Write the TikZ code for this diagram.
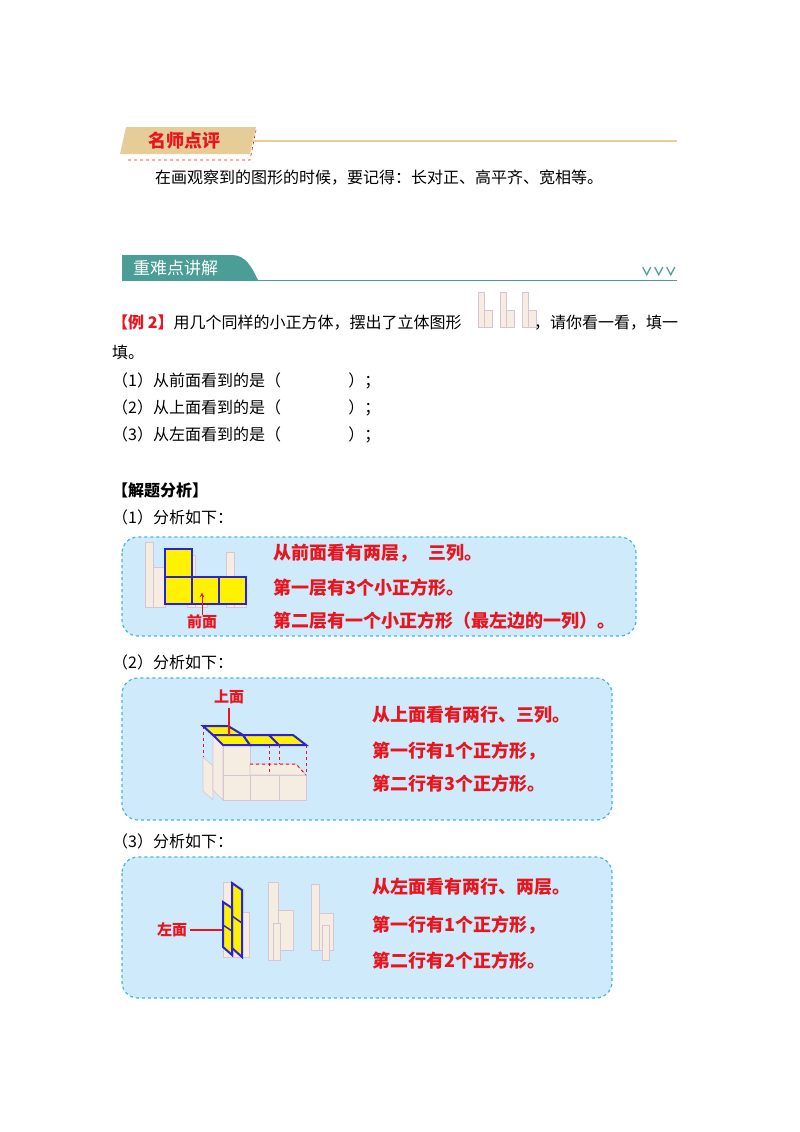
\documentclass[tikz,border=0pt]{standalone}
\usepackage{fontspec}
\setmainfont{Noto Sans CJK SC}
\definecolor{tan}{HTML}{E6CD98}
\definecolor{teal}{HTML}{4A9E96}
\definecolor{boxfill}{HTML}{CFEAFA}
\definecolor{boxline}{HTML}{40B6E8}
\definecolor{redt}{HTML}{E8141E}
\definecolor{beige}{HTML}{F6EDE2}
\definecolor{beigel}{HTML}{D9C4D4}
\definecolor{bluel}{HTML}{2A22D8}
\begin{document}
\begin{tikzpicture}[x=1pt,y=-1pt,
 body/.style={anchor=west,inner sep=0pt,font=\fontsize{16}{16}\selectfont},
 redb/.style={anchor=west,inner sep=0pt,text=redt,font=\fontsize{18}{18}\selectfont\bfseries},
 abox/.style={fill=boxfill,draw=boxline,dashed,line width=1.2pt,rounded corners=16pt},
 cube/.style={fill=beige,draw=beigel,line width=0.6pt},
 ysq/.style={fill=yellow,draw=bluel,line width=2pt},
 rdash/.style={draw=redt,dashed,line width=1pt}]
\useasboundingbox (0,0) rectangle (800,1132);
% header 1
\draw[redt,dashed,line width=0.6pt] (128,160)--(250,160)--(256,130);
\fill[tan] (126,127)--(256,127)--(250,154)--(120,154)--cycle;
\node[anchor=center,inner sep=0pt,text=redt,font=\fontsize{18}{18}\selectfont\bfseries] (h1) at (184,141) {名师点评};
\draw[tan,line width=1.8pt] (253,141)--(677,141);
\node[body] (t1) at (155,178) {在画观察到的图形的时候，要记得：长对正、高平齐、宽相等。};
% header 2
\fill[teal] (122,255)--(232,255) .. controls (246,255) and (252,268) .. (258,280) -- (122,280)--cycle;
\draw[teal,line width=1pt] (122,280.5)--(677,280.5);
\node[anchor=west,inner sep=0pt,text=white,font=\fontsize{17}{17}\selectfont] (h2) at (133,268) {重难点讲解};
\node[anchor=east,inner sep=0pt,text=teal,font=\fontsize{12}{12}\selectfont\bfseries] (v) at (677,272) {∨∨∨};
% example
\node[body] (e1) at (112,323) {\textcolor{redt}{\bfseries 【例 2】}用几个同样的小正方体，摆出了立体图形};
\foreach \x in {478,500,522}{
 \draw[beigel,fill=beige] (\x,292) rectangle (\x+6,327);
 \draw[beigel,fill=beige] (\x+6,310) rectangle (\x+14,327);}
\node[body] (e2) at (534,323) {，请你看一看，填一};
\node[body] (e3) at (112,352) {填。};
\node[body] (q1) at (112,381) {（1）从前面看到的是（\hspace{4.2em}）；};
\node[body] (q2) at (112,408) {（2）从上面看到的是（\hspace{4.2em}）；};
\node[body] (q3) at (112,435) {（3）从左面看到的是（\hspace{4.2em}）；};
\node[body,font=\fontsize{16}{16}\selectfont\bfseries] (a0) at (112,490) {【解题分析】};
\node[body] (a1) at (112,517) {（1）分析如下：};
\node[body] (a2) at (112,662) {（2）分析如下：};
\node[body] (a3) at (112,841) {（3）分析如下：};
% box 1
\draw[abox] (122,537) rectangle (636,636);
\foreach \x/\t in {145/542,187/555,226/552}{\draw[cube] (\x,\t) rectangle (\x+8,607); \draw[cube] (\x+8,\t+25) rectangle (\x+20,607);}
\draw[ysq] (165,549) rectangle (192,577);
\draw[ysq] (165,577) rectangle (192,604);
\draw[ysq] (192,577) rectangle (219,604);
\draw[ysq] (219,577) rectangle (246,604);
\node[anchor=center,inner sep=0pt,text=redt,font=\fontsize{15}{15}\selectfont\bfseries] (qm) at (202,622) {前面};
\draw[redt,line width=1pt,-stealth] (qm.north) -- ++(0,-22);
\node[redb] (b11) at (273,553) {从前面看有两层，\hspace{0.6em}三列。};
\node[redb] (b12) at (273,588) {第一层有3个小正方形。};
\node[redb] (b13) at (273,621) {第二层有一个小正方形（最左边的一列）。};
% box 2
\draw[abox] (122,678) rectangle (612,820);
\draw[cube] (203,757)--(213,766)--(213,800)--(203,791)--cycle;
\draw[cube] (213,735)--(223,745)--(223,800)--(213,790)--cycle;
\draw[cube] (223,745) rectangle (250,775);
\draw[cube] (223,775) rectangle (250,800);
\draw[cube] (250,775) rectangle (279,800);
\draw[cube] (279,775) rectangle (306,800);
\draw[cube] (250,764)--(296,764)--(306,775)--(250,775)--cycle;
\draw[rdash] (203,726)--(203,757);
\draw[rdash] (269,745)--(269,775);
\draw[rdash] (279,745)--(279,764);
\draw[rdash] (306,745)--(306,775);
\draw[rdash] (250,764)--(296,764)--(306,775);
\draw[ysq] (203,726)--(228,726)--(243,735)--(213,735)--cycle;
\draw[ysq] (213,735)--(243,735)--(250,745)--(223,745)--cycle;
\draw[ysq] (243,735)--(269,735)--(279,745)--(250,745)--cycle;
\draw[ysq] (269,735)--(293,735)--(306,745)--(279,745)--cycle;
\node[anchor=center,inner sep=0pt,text=redt,font=\fontsize{15}{15}\selectfont\bfseries] (qt) at (229,697) {上面};
\draw[redt,line width=1.2pt] (229,708)--(229,735);
\node[redb] (b21) at (372,715) {从上面看有两行、三列。};
\node[redb] (b22) at (372,751) {第一行有1个正方形，};
\node[redb] (b23) at (372,784) {第二行有3个正方形。};
% box 3
\draw[abox] (122,857) rectangle (612,998);
\draw[cube] (223,882) rectangle (233,957);
\draw[cube] (233,912) rectangle (249,957);
\draw[cube] (268,882) rectangle (278,960);
\draw[cube] (278,910) rectangle (293,950);
\draw[cube] (273,923) rectangle (280,960);
\draw[cube] (311,884) rectangle (319,950);
\draw[cube] (319,913) rectangle (333,950);
\draw[cube] (322,925) rectangle (329,960);
\draw[ysq] (232,883)--(242,890)--(242,957)--(232,948)--cycle;
\draw[ysq] (223,902)--(232,908)--(232,955)--(223,947)--cycle;
\draw[bluel,line width=1.5pt] (232,916)--(242,923);
\draw[bluel,line width=1.5pt] (223,925)--(232,931);
\node[anchor=center,inner sep=0pt,text=redt,font=\fontsize{15}{15}\selectfont\bfseries] (ql) at (172,930) {左面};
\draw[redt,line width=1.2pt] (ql.east) ++(3,0) -- (222,930);
\node[redb] (b31) at (372,887) {从左面看有两行、两层。};
\node[redb] (b32) at (372,925) {第一行有1个正方形，};
\node[redb] (b33) at (372,961) {第二行有2个正方形。};
\end{tikzpicture}
\end{document}
